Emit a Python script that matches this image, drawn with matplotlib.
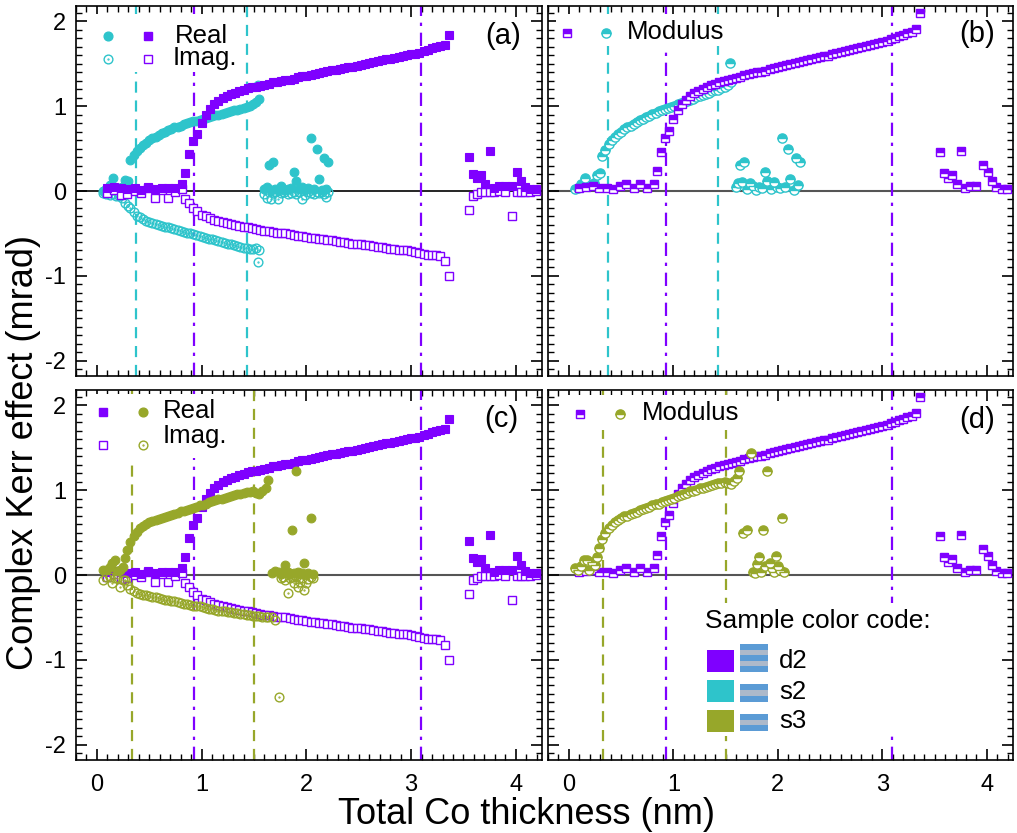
import numpy as np
import matplotlib
matplotlib.use("Agg")
import matplotlib.pyplot as plt
from matplotlib.path import Path
from matplotlib.patches import Rectangle
from matplotlib.ticker import MultipleLocator

plt.rcParams['font.family'] = ['Liberation Sans', 'DejaVu Sans']
plt.rcParams['axes.unicode_minus'] = False

# ---------------- data ----------------
# sample d2 (purple)
x_d2 = [0.10, 0.16, 0.23, 0.29, 0.36, 0.42, 0.49, 0.55, 0.62, 0.68, 0.75, 0.81,
        0.84, 0.88, 0.92, 0.96,
        1.00, 1.04, 1.08, 1.12, 1.16, 1.20, 1.24, 1.28, 1.32, 1.36,
        1.40, 1.44, 1.48, 1.52, 1.56, 1.60, 1.64, 1.68, 1.72, 1.76,
        1.80, 1.84, 1.88, 1.92, 1.96, 2.00, 2.04, 2.08, 2.12, 2.16,
        2.20, 2.24, 2.28, 2.32, 2.36, 2.40, 2.44, 2.48, 2.52, 2.56,
        2.60, 2.64, 2.68, 2.72, 2.76, 2.80, 2.84, 2.88, 2.92, 2.96,
        3.00, 3.04, 3.08, 3.12, 3.16, 3.20, 3.24, 3.28, 3.32, 3.36,
        3.55, 3.59, 3.63, 3.67, 3.71, 3.75, 3.79, 3.84, 3.90, 3.96,
        4.01, 4.05, 4.09, 4.14, 4.19]
re_d2 = [0.03, 0.05, 0.04, 0.02, 0.03, 0.01, 0.05, 0.02, 0.04, 0.03, 0.04, 0.08,
         0.21, 0.44, 0.59, 0.67,
         0.80, 0.90, 0.97, 1.02, 1.06, 1.10, 1.12, 1.14, 1.16, 1.18,
         1.19, 1.21, 1.22, 1.23, 1.24, 1.25, 1.26, 1.28, 1.29, 1.30,
         1.31, 1.31, 1.32, 1.34, 1.35, 1.36, 1.37, 1.38, 1.39, 1.40,
         1.41, 1.42, 1.43, 1.44, 1.45, 1.46, 1.46, 1.47, 1.49, 1.50,
         1.51, 1.52, 1.53, 1.54, 1.55, 1.56, 1.57, 1.58, 1.59, 1.60,
         1.61, 1.62, 1.63, 1.65, 1.66, 1.68, 1.70, 1.71, 1.72, 1.84,
         0.40, 0.20, 0.15, 0.19, 0.08, 0.47, 0.03, 0.06, 0.06, 0.06,
         0.22, 0.12, 0.05, 0.02, 0.02]
im_d2 = [-0.02, 0.01, -0.05, -0.03, 0.00, -0.02, 0.03, -0.08, 0.01, -0.08, -0.01, 0.02,
         -0.10, -0.14, -0.20, -0.24,
         -0.28, -0.30, -0.32, -0.34, -0.35, -0.37, -0.38, -0.39, -0.40, -0.41,
         -0.42, -0.43, -0.44, -0.45, -0.46, -0.47, -0.47, -0.48, -0.49, -0.50,
         -0.50, -0.51, -0.52, -0.53, -0.53, -0.54, -0.55, -0.55, -0.56, -0.57,
         -0.58, -0.58, -0.59, -0.60, -0.60, -0.61, -0.62, -0.62, -0.63, -0.64,
         -0.64, -0.65, -0.66, -0.66, -0.67, -0.68, -0.68, -0.69, -0.70, -0.70,
         -0.71, -0.72, -0.73, -0.74, -0.75, -0.76, -0.76, -0.77, -0.83, -1.00,
         -0.22, -0.06, -0.03, -0.01, -0.01, -0.01, -0.01, 0.00, -0.01, -0.30,
         -0.01, -0.01, -0.01, -0.01, 0.00]

# sample s2 (cyan)
x_s2 = [0.06, 0.09, 0.12, 0.15, 0.18, 0.21, 0.24, 0.27, 0.30,
        0.32, 0.35, 0.38, 0.41, 0.44, 0.47, 0.50, 0.53, 0.56, 0.59,
        0.62, 0.65, 0.68, 0.71, 0.74, 0.77, 0.80, 0.83, 0.86, 0.89,
        0.92, 0.95, 0.98, 1.01, 1.04, 1.07, 1.10, 1.13, 1.16, 1.19,
        1.22, 1.25, 1.28, 1.31, 1.34, 1.37, 1.40, 1.43, 1.46, 1.49, 1.52,
        1.54, 1.55,
        1.60, 1.62, 1.64, 1.66, 1.68, 1.70, 1.73, 1.76, 1.79, 1.82,
        1.85, 1.88, 1.90, 1.93, 1.96, 1.99, 2.02, 2.04, 2.07, 2.10,
        2.12, 2.15, 2.17, 2.19, 2.21]
re_s2 = [0.00, 0.02, 0.07, 0.15, 0.04, 0.03, 0.05, 0.13, 0.12,
         0.36, 0.42, 0.47, 0.51, 0.54, 0.57, 0.60, 0.62, 0.64, 0.66,
         0.68, 0.70, 0.72, 0.73, 0.75, 0.76, 0.77, 0.79, 0.80, 0.81,
         0.82, 0.83, 0.84, 0.85, 0.86, 0.87, 0.88, 0.89, 0.90, 0.91,
         0.92, 0.93, 0.94, 0.95, 0.96, 0.97, 0.98, 0.99, 1.00, 1.02, 1.05,
         1.25, 1.08,
         0.02, 0.05, 0.31, 0.01, 0.34, 0.02, 0.01, 0.06, 0.01, 0.02,
         0.03, 0.22, 0.12, 0.02, 0.05, 0.01, 0.03, 0.62, 0.02, 0.50,
         0.14, 0.01, 0.39, 0.02, 0.34]
im_s2 = [-0.02, -0.03, -0.05, -0.04, -0.06, -0.06, -0.08, -0.14, -0.18,
         -0.20, -0.25, -0.29, -0.31, -0.33, -0.35, -0.36, -0.38, -0.39, -0.40,
         -0.41, -0.42, -0.43, -0.44, -0.45, -0.46, -0.47, -0.48, -0.49, -0.50,
         -0.51, -0.52, -0.53, -0.54, -0.55, -0.56, -0.57, -0.58, -0.59, -0.60,
         -0.61, -0.62, -0.63, -0.64, -0.65, -0.66, -0.67, -0.67, -0.68, -0.68, -0.67,
         -0.84, -0.69,
         -0.04, -0.08, -0.01, -0.10, -0.02, -0.01, -0.09, -0.02, -0.01, -0.04,
         -0.02, -0.01, -0.03, -0.01, -0.10, -0.05, -0.01, -0.02, -0.04, -0.01,
         -0.02, -0.01, -0.03, -0.07, -0.01]

# sample s3 (olive)
x_s3 = [0.06, 0.09, 0.12, 0.14, 0.17, 0.19, 0.22, 0.25, 0.27, 0.29,
        0.32, 0.35, 0.38, 0.41, 0.44, 0.47, 0.50, 0.53, 0.56, 0.59,
        0.62, 0.65, 0.68, 0.71, 0.74, 0.77, 0.80, 0.83, 0.86, 0.89,
        0.92, 0.95, 0.98, 1.01, 1.04, 1.07, 1.10, 1.13, 1.16, 1.19,
        1.22, 1.25, 1.28, 1.31, 1.34, 1.37, 1.40, 1.43, 1.46, 1.49,
        1.52, 1.55, 1.58, 1.61,
        1.63, 1.67, 1.70, 1.74,
        1.76, 1.78, 1.80, 1.82, 1.84, 1.86, 1.88, 1.90, 1.92, 1.94,
        1.96, 1.98, 2.00, 2.02, 2.04, 2.06]
re_s3 = [0.06, 0.06, 0.10, 0.14, 0.18, 0.05, 0.06, 0.10, 0.20, 0.29,
         0.39, 0.46, 0.51, 0.55, 0.58, 0.60, 0.62, 0.64, 0.65, 0.66,
         0.67, 0.68, 0.70, 0.71, 0.72, 0.73, 0.75, 0.76, 0.77, 0.78,
         0.79, 0.80, 0.82, 0.83, 0.84, 0.86, 0.87, 0.88, 0.89, 0.90,
         0.91, 0.92, 0.93, 0.94, 0.95, 0.96, 0.97, 0.98, 0.98, 0.99,
         0.97, 0.96, 0.99, 1.03,
         1.12, 0.02, 0.05, 0.03,
         0.01, 0.02, 0.12, 0.03, 0.01, 0.53, 0.02, 1.23, 0.03, 0.01,
         0.02, 0.14, 0.01, 0.02, 0.67, 0.01]
im_s3 = [-0.06, -0.02, -0.02, -0.10, -0.03, -0.03, -0.14, -0.06, -0.06, -0.12,
         -0.16, -0.19, -0.21, -0.22, -0.23, -0.24, -0.25, -0.26, -0.26, -0.27,
         -0.28, -0.29, -0.30, -0.31, -0.31, -0.32, -0.33, -0.34, -0.34, -0.35,
         -0.36, -0.37, -0.37, -0.38, -0.39, -0.40, -0.40, -0.41, -0.42, -0.42,
         -0.43, -0.44, -0.44, -0.45, -0.45, -0.46, -0.46, -0.47, -0.47, -0.48,
         -0.48, -0.48, -0.49, -0.49,
         -0.50, -0.49, -0.53, -1.44,
         -0.03, -0.02, -0.06, -0.21, -0.04, -0.02, -0.10, -0.02, -0.14, -0.08,
         -0.03, -0.18, -0.10, -0.05, -0.02, -0.03]

# characteristic thicknesses (vertical lines)
lines_d2 = [0.93, 3.09]
lines_s2 = [0.37, 1.43]
lines_s3 = [0.33, 1.50]

panel_labels = ['(a)', '(b)', '(c)', '(d)']
samples = ['d2', 's2', 's3']

# ---------------- style ----------------
C_D2 = '#7F00FF'
C_S2 = '#2EC4CB'
C_S3 = '#97A72A'
STRIPE_B = '#5B9BD5'
STRIPE_G = '#ADB9CA'

W, H = 1017, 833
fig = plt.figure(figsize=(W / 100, H / 100), dpi=100)

boxes = {
    'a': (76, 6, 542, 376),
    'b': (548, 6, 1013, 376),
    'c': (76, 390, 542, 760),
    'd': (548, 390, 1013, 760),
}
axes = {}
for k, (l, t, r, b) in boxes.items():
    axes[k] = fig.add_axes([l / W, 1 - b / H, (r - l) / W, (b - t) / H])


def fr(k, X, Y):
    l, t, r, b = boxes[k]
    return (X - l) / (r - l), (b - Y) / (b - t)


ring = Path.make_compound_path(Path.unit_circle(), Path.circle((0, 0), 0.1))

MS_SQ = 5.2
MS_CI = 6.3


def re_im(ax, x, re, im, color, kind, z):
    if kind == 's':
        ax.plot(x, im, 's', ms=MS_SQ + 0.4, mfc='white', mec=color, mew=1.0, ls='none', zorder=z)
        ax.plot(x, re, 's', ms=MS_SQ, mfc=color, mec=color, mew=0.8, ls='none', zorder=z + 0.1)
    else:
        ax.plot(x, im, marker=ring, ms=MS_CI, mfc='none', mec=color, mew=1.0, ls='none', zorder=z)
        ax.plot(x, re, 'o', ms=MS_CI, mfc=color, mec=color, mew=0.8, ls='none', zorder=z + 0.1)


def modulus(ax, x, re, im, color, kind, z):
    m = np.hypot(np.asarray(re), np.asarray(im))
    mk = 's' if kind == 's' else 'o'
    ms = MS_SQ + 1.0 if kind == 's' else MS_CI + 0.3
    ax.plot(x, m, mk, ms=ms, fillstyle='top', mfc=color, mfcalt='white', mec=color,
            mew=1.0, ls='none', zorder=z)


# panel (a)
re_im(axes['a'], x_s2, re_s2, im_s2, C_S2, 'o', 3)
re_im(axes['a'], x_d2, re_d2, im_d2, C_D2, 's', 4)
# panel (b)
modulus(axes['b'], x_s2, re_s2, im_s2, C_S2, 'o', 3)
modulus(axes['b'], x_d2, re_d2, im_d2, C_D2, 's', 4)
# panel (c)
re_im(axes['c'], x_d2, re_d2, im_d2, C_D2, 's', 3)
re_im(axes['c'], x_s3, re_s3, im_s3, C_S3, 'o', 4)
# panel (d)
modulus(axes['d'], x_d2, re_d2, im_d2, C_D2, 's', 3)
modulus(axes['d'], x_s3, re_s3, im_s3, C_S3, 'o', 4)

for k, ax in axes.items():
    ax.set_xlim(-0.2, 4.25)
    ax.set_ylim(-2.18, 2.18)
    ax.axhline(0, color='black' if k == 'a' else '#555555', lw=1.2 if k == 'a' else 1.5, zorder=1)
    for xv in lines_d2:
        ax.axvline(xv, color=C_D2, lw=1.6, ls=(0, (6, 3, 1.5, 3)), zorder=2)
    other = lines_s2 if k in 'ab' else lines_s3
    oc = C_S2 if k in 'ab' else C_S3
    for xv in other:
        ax.axvline(xv, color=oc, lw=1.6, ls=(0, (5, 3.5)), zorder=2)
    ax.xaxis.set_major_locator(MultipleLocator(1))
    ax.xaxis.set_minor_locator(MultipleLocator(0.1))
    ax.yaxis.set_major_locator(MultipleLocator(1))
    ax.yaxis.set_minor_locator(MultipleLocator(0.1))
    ax.tick_params(which='both', direction='in', top=True, right=True, labelsize=17)
    ax.tick_params(which='major', length=8, width=1.2)
    ax.tick_params(which='minor', length=4, width=1.0)
    ax.tick_params(axis='x', pad=10)
    ax.tick_params(axis='y', pad=7)
    for s in ax.spines.values():
        s.set_linewidth(1.2)
    if k in 'ab':
        ax.tick_params(labelbottom=False)
    if k in 'bd':
        ax.tick_params(labelleft=False)

# panel letters
letter_pos = {'a': (521, 36), 'b': (995, 34), 'c': (518, 419), 'd': (995, 420)}
for (k, (X, Y)), lab in zip(letter_pos.items(), panel_labels):
    ax = axes[k]
    fx, fy = fr(k, X, Y)
    ax.text(fx, fy, lab, transform=ax.transAxes, ha='right', va='center', fontsize=21, zorder=10)


def bg(k, x0, y0, x1, y1):
    ax = axes[k]
    fx0, fy1 = fr(k, x0, y1)
    fx1, fy0 = fr(k, x1, y0)
    ax.add_patch(Rectangle((fx0, fy1), fx1 - fx0, fy0 - fy1, transform=ax.transAxes,
                           facecolor='white', edgecolor='none', zorder=8))


def mark(k, X, Y, **kw):
    ax = axes[k]
    fx, fy = fr(k, X, Y)
    ax.plot([fx], [fy], transform=ax.transAxes, clip_on=False, ls='none', zorder=9, **kw)


def label(k, X, Y, s, size=18.5):
    ax = axes[k]
    fx, fy = fr(k, X, Y)
    ax.text(fx, fy, s, transform=ax.transAxes, ha='left', va='baseline', fontsize=size, zorder=10)


# legend (a)
bg('a', 88, 14, 242, 72)
mark('a', 108, 36, marker='o', ms=MS_CI, mfc=C_S2, mec=C_S2)
mark('a', 148, 36, marker='s', ms=MS_SQ, mfc=C_D2, mec=C_D2)
mark('a', 108, 59, marker=ring, ms=MS_CI, mfc='none', mec=C_S2, mew=1.0)
mark('a', 148, 59, marker='s', ms=MS_SQ + 0.4, mfc='white', mec=C_D2, mew=1.0)
label('a', 175, 43, 'Real')
label('a', 173, 65, 'Imag.')

# legend (b)
bg('b', 556, 14, 735, 46)
mark('b', 567, 33, marker='s', ms=MS_SQ + 1, fillstyle='top', mfc=C_D2, mfcalt='white', mec=C_D2)
mark('b', 606, 33, marker='o', ms=MS_CI + 0.3, fillstyle='top', mfc=C_S2, mfcalt='white', mec=C_S2)
label('b', 627, 39, 'Modulus')

# legend (c)
bg('c', 88, 394, 235, 458)
mark('c', 103, 412, marker='s', ms=MS_SQ, mfc=C_D2, mec=C_D2)
mark('c', 143, 412, marker='o', ms=MS_CI, mfc=C_S3, mec=C_S3)
mark('c', 103, 445, marker='s', ms=MS_SQ + 0.4, mfc='white', mec=C_D2, mew=1.0)
mark('c', 143, 445, marker=ring, ms=MS_CI, mfc='none', mec=C_S3, mew=1.0)
label('c', 163, 418, 'Real')
label('c', 163, 443, 'Imag.')

# legend (d)
bg('d', 566, 395, 742, 430)
mark('d', 580, 414, marker='s', ms=MS_SQ + 1, fillstyle='top', mfc=C_D2, mfcalt='white', mec=C_D2)
mark('d', 620, 414, marker='o', ms=MS_CI + 0.3, fillstyle='top', mfc=C_S3, mfcalt='white', mec=C_S3)
label('d', 642, 420, 'Modulus')

# sample colour code box (d)
bg('d', 700, 603, 942, 736)
label('d', 705, 628, 'Sample color code:', size=19)
code_rows = [(samples[0], C_D2, 650, 672, 644, 672, 5, 661),
             (samples[1], C_S2, 680, 702, 684, 702, 3, 692),
             (samples[2], C_S3, 710, 732, 714, 731, 3, 721)]
axd = axes['d']
for name, col, sy0, sy1, ty0, ty1, nb, yc in code_rows:
    fx0, fy1 = fr('d', 707, sy1)
    fx1, fy0 = fr('d', 734, sy0)
    axd.add_patch(Rectangle((fx0, fy1), fx1 - fx0, fy0 - fy1, transform=axd.transAxes,
                            facecolor=col, edgecolor='none', zorder=9))
    bh = (ty1 - ty0) / nb
    for i in range(nb):
        gx0, gy1 = fr('d', 740, ty0 + (i + 1) * bh)
        gx1, gy0 = fr('d', 768, ty0 + i * bh)
        axd.add_patch(Rectangle((gx0, gy1), gx1 - gx0, gy0 - gy1, transform=axd.transAxes,
                                facecolor=STRIPE_B if i % 2 == 0 else STRIPE_G,
                                edgecolor='none', zorder=9))
    tx, ty = fr('d', 779, yc)
    axd.text(tx, ty, name, transform=axd.transAxes, ha='left', va='center', fontsize=18.5, zorder=10)

fig.text(24 / W, 1 - 452 / H, 'Complex Kerr effect (mrad)', rotation=90, ha='center', va='center',
         fontsize=26)
fig.text(527 / W, 1 - 815 / H, 'Total Co thickness (nm)', ha='center', va='center', fontsize=26)

fig.savefig('out.png', dpi=100)
